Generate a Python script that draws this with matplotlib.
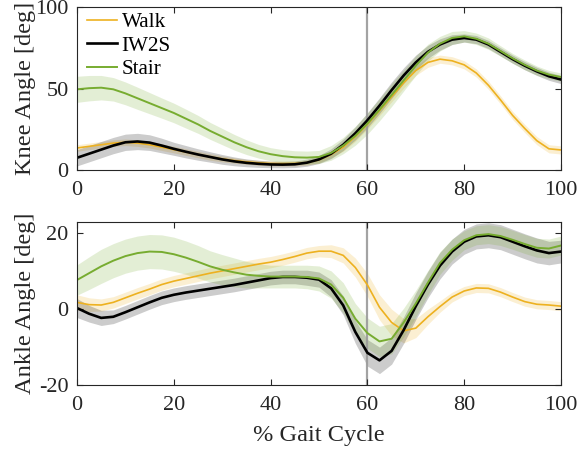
import numpy as np
import matplotlib
matplotlib.use("Agg")
import matplotlib.pyplot as plt

plt.rcParams['font.family'] = ['Liberation Serif', 'DejaVu Serif']
plt.rcParams['axes.unicode_minus'] = False

# % gait cycle sample points
pct = [0, 2.5, 5, 7.5, 10, 12.5, 15, 17.5, 20, 22.5, 25, 27.5, 30, 32.5, 35, 37.5, 40,
       42.5, 45, 47.5, 50, 52.5, 55, 57.5, 60, 62.5, 65, 67.5, 70, 72.5, 75, 77.5, 80,
       82.5, 85, 87.5, 90, 92.5, 95, 97.5, 100]

# knee angle (mean, sd)
knee_walk = [13.5, 14.5, 15.5, 16.5, 17, 16.5, 15.5, 14, 12.5, 11, 9.5, 8, 6.8, 5.8, 5, 4.4, 4,
             3.9, 4, 4.5, 6.2, 9.5, 14, 20.5, 28, 36.5, 45, 53.5, 61, 66, 68, 67, 64.5,
             59.5, 52, 43, 33.5, 25.5, 18, 13, 12.3]
knee_walk_sd = [2, 2, 2, 2, 2, 2, 2, 2, 2, 2, 2, 2, 1.8, 1.6, 1.5, 1.5, 1.5,
                1.5, 1.5, 1.5, 1.8, 2, 2.5, 3, 3, 3.2, 3.2, 3.2, 3, 3, 2.5, 2.5, 2.5,
                2.5, 2.5, 2.5, 2.5, 2.5, 2.5, 2.5, 2.5]
knee_iw2s = [7.5, 10, 12.5, 15, 17, 17.5, 16.8, 15, 13, 11.2, 9.5, 8, 6.5, 5.3, 4.4, 3.8, 3.4,
             3.3, 3.5, 4.5, 6.5, 10, 15.5, 22.5, 30.5, 39.5, 49, 58, 66, 72.5, 77, 80, 81,
             80, 77, 72.5, 68, 64, 60.5, 57.5, 55.5]
knee_iw2s_sd = [5, 5, 5, 5, 5, 5, 4.8, 4.5, 4, 3.8, 3.5, 3.2, 3, 2.7, 2.4, 2.2, 2,
                2, 2, 2.2, 2.5, 3, 3.5, 4, 4.5, 4.8, 5, 4.8, 4.5, 4, 3.5, 3, 2.5,
                2.5, 2.5, 2.5, 2.5, 2.5, 2.5, 2.5, 2.5]
knee_stair = [49.5, 50.2, 50.5, 49.5, 47, 44, 41, 38, 35, 31.5, 28, 24, 20.5, 17, 14, 11.5, 9.7,
              8.5, 7.8, 7.6, 8, 10.5, 15, 21, 28.5, 37, 46, 55, 64, 72, 77.5, 81, 82,
              80.5, 77.5, 73, 68.5, 64.5, 61, 58.5, 57]
knee_stair_sd = [8, 7.8, 7.5, 7.2, 7, 6.8, 6.5, 6.2, 6, 5.8, 5.5, 5.2, 5, 4.8, 4.5, 4.2, 4,
                 4, 4, 4, 4, 4.5, 5, 5.8, 6.5, 6.8, 7, 6.5, 6, 5.2, 4.5, 4, 3.5,
                 3.5, 3.5, 3.2, 3, 3, 2.8, 2.6, 2.5]

# ankle angle (mean, sd)
ankle_walk = [1.8, 1.2, 1.1, 1.8, 3, 4.2, 5.3, 6.5, 7.4, 8.1, 8.8, 9.5, 10.1, 10.7, 11.3, 11.9, 12.4,
              13.1, 13.9, 14.8, 15.3, 15.3, 14.2, 11, 6.4, 0.5, -3.5, -5.7, -5, -2, 0.7, 3.2, 4.8,
              5.6, 5.5, 4.5, 3.2, 2, 1.3, 1.1, 0.8]
ankle_walk_sd = [2, 1.8, 1.6, 1.5, 1.5, 1.5, 1.5, 1.5, 1.5, 1.5, 1.5, 1.5, 1.5, 1.5, 1.5, 1.5, 1.5,
                 1.5, 1.5, 1.5, 1.5, 1.7, 2, 2.5, 3, 3.3, 3.5, 3.2, 2.5, 2, 1.5, 1.3, 1.2,
                 1.2, 1.2, 1.2, 1.2, 1.2, 1.2, 1.2, 1.2]
ankle_iw2s = [0.3, -1.2, -2.3, -2, -0.8, 0.5, 1.8, 3, 3.8, 4.4, 4.9, 5.4, 5.9, 6.4, 7, 7.6, 8.2,
              8.5, 8.5, 8.3, 7.8, 5.5, 1, -6, -11.5, -13.5, -11, -5.5, 0.8, 6.5, 11.5, 15.2, 17.8,
              19.2, 19.5, 19, 17.8, 16.6, 15.5, 14.8, 15.2]
ankle_iw2s_sd = [2.5, 2.2, 2, 1.8, 1.8, 1.8, 1.8, 1.8, 1.8, 1.8, 1.8, 1.8, 1.8, 1.8, 1.8, 1.8, 1.8,
                 1.8, 1.8, 2, 2, 2.3, 2.5, 3, 3.5, 3.5, 3.5, 3.5, 3.5, 3.5, 3.5, 3.3, 3.3,
                 3.3, 3.3, 3.3, 3.3, 3.3, 3.3, 3.1, 3]
ankle_stair = [7.7, 9.5, 11.3, 12.8, 14, 14.8, 15.2, 15.1, 14.5, 13.6, 12.5, 11.3, 10.4, 9.7, 9.1, 8.8, 8.6,
               8.6, 8.6, 8.5, 8.1, 6.5, 3, -2.5, -6.3, -8.5, -7.8, -3.5, 1.5, 7, 12.2, 15.7, 18.2,
               19.5, 19.8, 19.3, 18.3, 17.2, 16.2, 16, 16.8]
ankle_stair_sd = [4, 4.3, 4.5, 4.5, 4.5, 4.5, 4.5, 4.5, 4.5, 4.4, 4.3, 4.1, 4, 3.8, 3.5, 3.2, 3,
                  3, 3, 3.1, 3.3, 3.6, 4, 4, 4, 4, 4, 3.8, 3.5, 3.2, 3, 2.8, 2.5,
                  2.5, 2.5, 2.5, 2.5, 2.5, 2.5, 2.5, 2.5]

labels = ['Walk', 'IW2S', 'Stair']
colors = ['#EDB120', '#000000', '#77AC30']
widths = [1.2, 1.9, 1.4]
transition = 60

x = np.array(pct)
fig = plt.figure(figsize=(5.79, 4.5), dpi=100)
ax1 = fig.add_axes([77 / 579, 1 - 170 / 450, 484 / 579, 163 / 450])
ax2 = fig.add_axes([77 / 579, 1 - 385 / 450, 484 / 579, 163 / 450])

panels = [
    (ax1, [knee_walk, knee_iw2s, knee_stair], [knee_walk_sd, knee_iw2s_sd, knee_stair_sd]),
    (ax2, [ankle_walk, ankle_iw2s, ankle_stair], [ankle_walk_sd, ankle_iw2s_sd, ankle_stair_sd]),
]

for ax, means, sds in panels:
    for m, s, c, lw, lab in zip(means, sds, colors, widths, labels):
        m = np.array(m)
        s = np.array(s)
        ax.fill_between(x, m - s, m + s, color=c, alpha=0.2, lw=0)
        ax.plot(x, m, color=c, lw=lw, label=lab)
    ax.axvline(transition, color='#999999', lw=1.6, alpha=0.9, zorder=1)
    ax.set_xlim(0, 100)
    ax.set_xticks([0, 20, 40, 60, 80, 100])
    ax.tick_params(direction='in', top=True, right=True, labelsize=16,
                   length=4, width=0.8, colors='#262626')
    ax.tick_params(axis='x', pad=8)
    ax.tick_params(axis='y', pad=6)
    for sp in ax.spines.values():
        sp.set_linewidth(0.8)
        sp.set_color('#262626')

ax1.set_ylim(0, 100)
ax1.set_yticks([0, 50, 100])
ax1.set_ylabel('Knee Angle [deg]', fontsize=17.6, color='#262626')
ax1.yaxis.set_label_coords(-0.085, 0.5)
ax1.legend(loc='upper left', bbox_to_anchor=(0.02, 0.965), frameon=False,
           fontsize=15.2, handlelength=1.45, handletextpad=0.2,
           labelspacing=0.17, borderpad=0, borderaxespad=0)

ax2.set_ylim(-20, 23)
ax2.set_yticks([-20, 0, 20])
ax2.set_ylabel('Ankle Angle [deg]', fontsize=17.6, color='#262626')
ax2.yaxis.set_label_coords(-0.085, 0.5)
ax2.set_xlabel('% Gait Cycle', fontsize=17.6, color='#262626')
ax2.xaxis.set_label_coords(0.5, -0.245)

fig.savefig('out.png', dpi=100)
